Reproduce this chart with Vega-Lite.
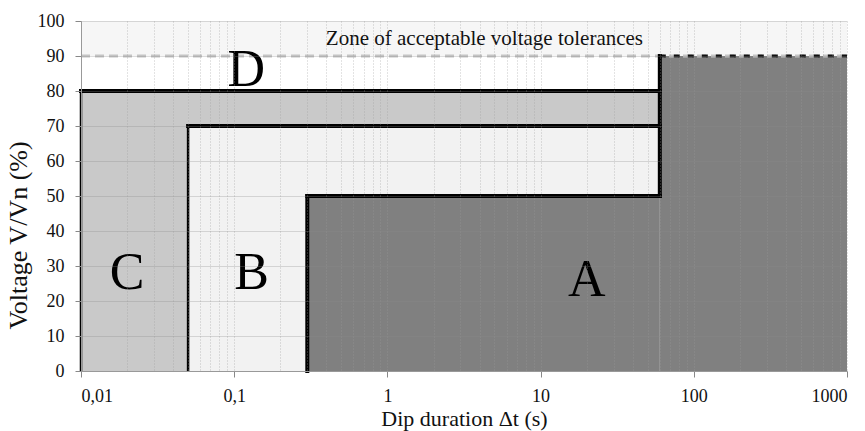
{
  "$schema": "https://vega.github.io/schema/vega-lite/v6.json",
  "width": 766,
  "height": 350,
  "autosize": {"type": "none"},
  "padding": {"left": 81, "top": 21, "right": 18, "bottom": 60},
  "background": "white",
  "config": {
    "view": {"stroke": null},
    "font": "Liberation Serif",
    "axis": {"labelFont": "Liberation Serif", "titleFont": "Liberation Serif", "labelColor": "#111", "titleColor": "#111", "titleFontWeight": "normal"}
  },
  "datasets": {
    "zones": [
      {"zone": "top", "x": 0.01, "x2": 1000, "y": 90, "y2": 100},
      {"zone": "C", "x": 0.01, "x2": 0.05, "y": 0, "y2": 80},
      {"zone": "C", "x": 0.05, "x2": 60, "y": 70, "y2": 80},
      {"zone": "B", "x": 0.05, "x2": 0.3, "y": 0, "y2": 70},
      {"zone": "B", "x": 0.3, "x2": 60, "y": 50, "y2": 70},
      {"zone": "A", "x": 0.3, "x2": 60, "y": 0, "y2": 50},
      {"zone": "A", "x": 60, "x2": 1000, "y": 0, "y2": 90}
    ],
    "thick": [
      {"x": 0.01, "x2": 60, "y": 80, "y2": 80},
      {"x": 60, "x2": 60, "y": 50, "y2": 90},
      {"x": 0.05, "x2": 60, "y": 70, "y2": 70},
      {"x": 0.3, "x2": 60, "y": 50, "y2": 50},
      {"x": 0.3, "x2": 0.3, "y": 0, "y2": 50}
    ],
    "thin": [
      {"x": 0.05, "x2": 0.05, "y": 0, "y2": 70},
      {"x": 0.01, "x2": 0.01, "y": 0, "y2": 80}
    ],
    "limit": [
      {"x": 0.01, "x2": 1000, "y": 90, "y2": 90}
    ],
    "limitA": [
      {"x": 60, "x2": 1000, "y": 90, "y2": 90}
    ],
    "letters": [
      {"label": "C", "x": 0.02, "y": 28},
      {"label": "B", "x": 0.13, "y": 28},
      {"label": "A", "x": 20, "y": 26},
      {"label": "D", "x": 0.12, "y": 86}
    ],
    "note": [
      {"label": "Zone of acceptable  voltage tolerances", "x": 4.3, "y": 95}
    ]
  },
  "encoding": {
    "x": {"field": "x", "type": "quantitative", "scale": {"type": "log", "domain": [0.01, 1000], "nice": false},
      "axis": {"orient": "bottom", "zindex": 1,
        "values": [0.01,0.02,0.03,0.04,0.05,0.06,0.07,0.08,0.09,0.1,0.2,0.3,0.4,0.5,0.6,0.7,0.8,0.9,1,2,3,4,5,6,7,8,9,10,20,30,40,50,60,70,80,90,100,200,300,400,500,600,700,800,900,1000],
        "labelExpr": "abs(log(datum.value)/LN10 - round(log(datum.value)/LN10)) < 0.000001 ? replace(format(datum.value, '~g'), '.', ',') : ''",
        "labelOverlap": false, "labelBound": false,
        "labelFont": "Liberation Serif", "labelFontSize": 18, "labelPadding": 10, "labelColor": "#111",
        "tickSize": 6, "tickColor": "#888",
        "tickOpacity": {"condition": {"test": "abs(log(datum.value)/LN10 - round(log(datum.value)/LN10)) < 0.000001", "value": 1}, "value": 0},
        "domainColor": "#999",
        "grid": true, "gridColor": "#9a9a9a", "gridOpacity": 0.55, "gridDash": [1, 2], "gridWidth": 1,
        "title": "Dip duration Δt (s)", "titleFont": "Liberation Serif", "titleFontWeight": "normal", "titleColor": "#111", "titleFontSize": 22, "titlePadding": 3}},
    "y": {"field": "y", "type": "quantitative", "scale": {"domain": [0, 100], "nice": false},
      "axis": {"zindex": 1, "values": [0, 10, 20, 30, 40, 50, 60, 70, 80, 90, 100], "labelOverlap": false,
        "labelFont": "Liberation Serif", "labelFontSize": 18, "labelPadding": 11, "labelColor": "#111",
        "tickSize": 6, "tickColor": "#888", "domainColor": "#999",
        "grid": true, "gridColor": "#8a8a8a", "gridOpacity": 0.6, "gridDash": [1, 1], "gridWidth": 1,
        "title": "Voltage V/Vn (%)", "titleFont": "Liberation Serif", "titleFontWeight": "normal", "titleColor": "#111", "titleFontSize": 26, "titlePadding": 6, "titleY": 214}}
  },
  "layer": [
    {
      "data": {"name": "zones"},
      "mark": {"type": "rect"},
      "encoding": {
        "x2": {"field": "x2"},
        "y2": {"field": "y2"},
        "color": {"field": "zone", "type": "nominal", "legend": null,
          "scale": {"domain": ["top", "C", "B", "A"], "range": ["#f6f6f6", "#c9c9c9", "#f2f2f2", "#808080"]}}
      }
    },
    {
      "data": {"name": "limit"},
      "mark": {"type": "rule", "color": "#c4c4c4", "strokeWidth": 3, "strokeDash": [9, 5]},
      "encoding": {"x2": {"field": "x2"}, "y2": {"field": "y2"}}
    },
    {
      "data": {"name": "limitA"},
      "mark": {"type": "rule", "color": "#111", "strokeWidth": 3, "strokeDash": [6, 8]},
      "encoding": {"x2": {"field": "x2"}, "y2": {"field": "y2"}}
    },
    {
      "data": {"name": "thick"},
      "mark": {"type": "rule", "color": "#000", "strokeWidth": 4, "strokeCap": "square"},
      "encoding": {"x2": {"field": "x2"}, "y2": {"field": "y2"}}
    },
    {
      "data": {"name": "thin"},
      "mark": {"type": "rule", "color": "#000", "strokeWidth": 2.5},
      "encoding": {"x2": {"field": "x2"}, "y2": {"field": "y2"}}
    },
    {
      "data": {"name": "letters"},
      "mark": {"type": "text", "fontSize": 52, "font": "Liberation Serif", "color": "#000", "baseline": "middle", "align": "center"},
      "encoding": {"text": {"field": "label"}}
    },
    {
      "data": {"name": "note"},
      "mark": {"type": "text", "fontSize": 21, "font": "Liberation Serif", "color": "#111", "baseline": "middle", "align": "center"},
      "encoding": {"text": {"field": "label"}}
    }
  ]
}
